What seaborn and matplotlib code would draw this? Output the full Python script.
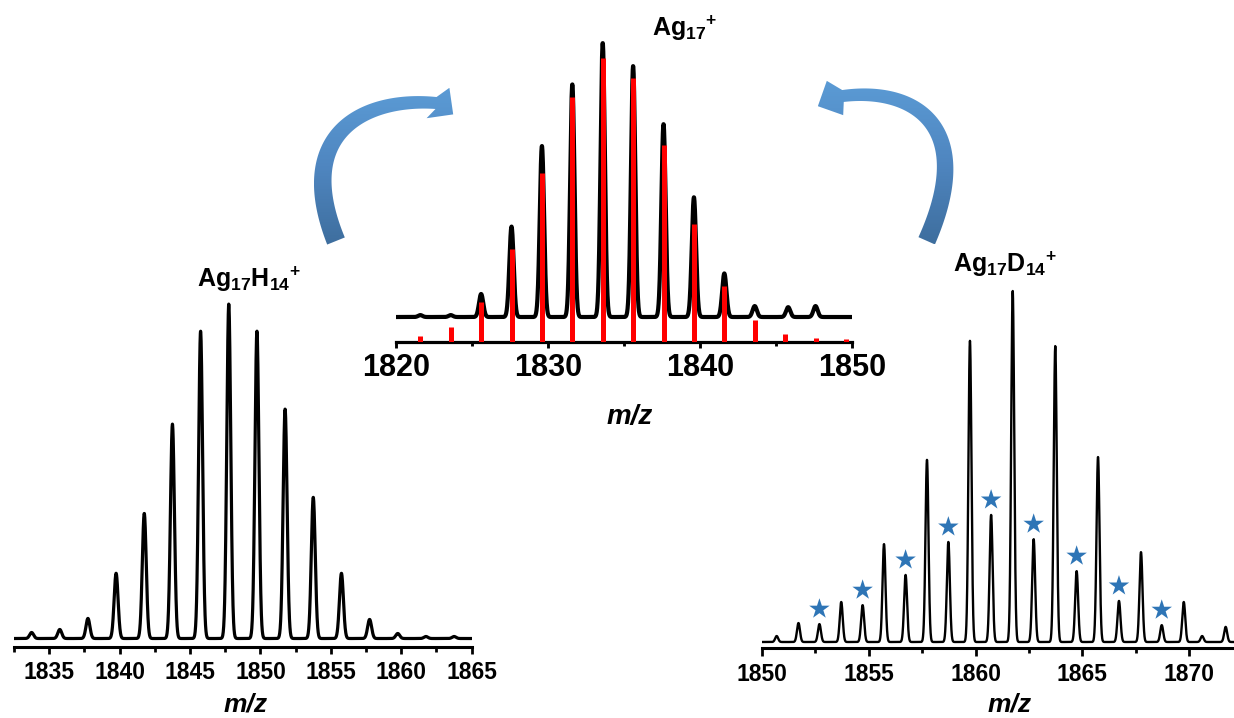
import numpy as np
import pandas as pd
import matplotlib
matplotlib.use("Agg")
import matplotlib.pyplot as plt
from matplotlib.patches import Polygon
from matplotlib.colors import LinearSegmentedColormap
from matplotlib.ticker import MultipleLocator, FormatStrFormatter
import seaborn as sns

# ---- Ag17+ : measured isotope envelope (black) and simulated pattern (red sticks)
ag17_peak_mz = [1821.6, 1823.6, 1825.6, 1827.6, 1829.6, 1831.6, 1833.6,
                1835.6, 1837.6, 1839.6, 1841.6, 1843.6, 1845.8, 1847.6]
ag17_peak_int = [0.7, 0.7, 8.4, 33.0, 62.4, 84.9, 100.0,
                 91.6, 70.4, 43.7, 15.9, 4.0, 3.6, 4.0]
ag17_sim_mz = [1821.6, 1823.6, 1825.6, 1827.6, 1829.6, 1831.6, 1833.6, 1835.6,
               1837.6, 1839.6, 1841.6, 1843.6, 1845.6, 1847.6, 1849.6]
ag17_sim_int = [2.1, 5.2, 14.1, 32.7, 59.5, 86.3, 100.0, 93.0,
                69.4, 41.6, 19.8, 7.8, 2.8, 1.4, 1.0]

# ---- Ag17H14+
ag17h14_mz = [1833.75, 1835.75, 1837.75, 1839.75, 1841.75, 1843.75, 1845.75, 1847.75,
              1849.75, 1851.75, 1853.75, 1855.75, 1857.75, 1859.75, 1861.75, 1863.75]
ag17h14_int = [1.8, 2.7, 6.0, 19.5, 37.4, 64.1, 91.9, 100.0,
               91.9, 68.6, 42.2, 19.5, 5.7, 1.5, 0.6, 0.6]

# ---- Ag17D14+ (main series) and the marked (*) series
ag17d14_mz = [1850.70, 1851.72, 1853.72, 1855.72, 1857.73, 1859.74, 1861.74,
              1863.73, 1865.73, 1867.74, 1869.74, 1870.60, 1871.70]
ag17d14_int = [1.7, 5.4, 11.4, 27.9, 51.9, 85.8, 100.0,
               84.3, 52.7, 25.6, 11.4, 1.7, 4.3]
marked_mz = [1852.70, 1854.72, 1856.73, 1858.73, 1860.73, 1862.72, 1864.73, 1866.71, 1868.71]
marked_int = [5.1, 10.5, 19.1, 28.5, 36.2, 29.3, 20.2, 11.7, 4.8]

# tick layout and labels
center_xlim = (1820, 1850)
left_xlim = (1832.5, 1865)
right_xlim = (1850, 1872.09)
label_center = r"$\mathrm{Ag}_{17}{}^{+}$"
label_left = r"$\mathrm{Ag}_{17}\mathrm{H}_{14}{}^{+}$"
label_right = r"$\mathrm{Ag}_{17}\mathrm{D}_{14}{}^{+}$"
xlabel = "m/z"


def envelope(grid, centers, heights, sigma):
    """Sum of Gaussian line shapes at the listed peak positions."""
    c = np.asarray(centers)[:, None]
    h = np.asarray(heights)[:, None]
    return (h * np.exp(-0.5 * ((grid[None, :] - c) / sigma) ** 2)).sum(axis=0)


sns.set_theme(style="ticks")
plt.rcParams["font.family"] = ["Liberation Sans", "DejaVu Sans"]
plt.rcParams["font.weight"] = "bold"
plt.rcParams["text.color"] = "black"
plt.rcParams["axes.labelcolor"] = "black"
plt.rcParams["xtick.color"] = "black"
plt.rcParams["axes.edgecolor"] = "black"
plt.rcParams["mathtext.fontset"] = "custom"
plt.rcParams["mathtext.rm"] = "Liberation Sans:bold"
plt.rcParams["mathtext.bf"] = "Liberation Sans:bold"
plt.rcParams["mathtext.it"] = "Liberation Sans:bold:italic"

W, H = 1234, 718
fig = plt.figure(figsize=(W / 100, H / 100), dpi=100)


def px_axes(x0, x1, ytop, ybot):
    return fig.add_axes([x0 / W, 1 - ybot / H, (x1 - x0) / W, (ybot - ytop) / H])


def style_axis(ax, xlim, major, minor, fs, spine_w, maj_len, min_len, pad):
    ax.set_xlim(*xlim)
    for s in ("left", "top", "right"):
        ax.spines[s].set_visible(False)
    ax.spines["bottom"].set_linewidth(spine_w)
    ax.spines["bottom"].set_color("black")
    ax.set_yticks([])
    ax.set_ylabel("")
    ax.xaxis.set_major_locator(MultipleLocator(major))
    ax.xaxis.set_minor_locator(MultipleLocator(minor))
    ax.xaxis.set_major_formatter(FormatStrFormatter("%d"))
    ax.tick_params(axis="x", which="major", direction="out", length=maj_len,
                   width=spine_w * 0.9, labelsize=fs, pad=pad, colors="black")
    ax.tick_params(axis="x", which="minor", direction="out", length=min_len,
                   width=spine_w * 0.9, colors="black")
    for t in ax.get_xticklabels():
        t.set_fontweight("bold")
    ax.patch.set_alpha(0)


# ---------------- center panel: Ag17+
ax_c = px_axes(396, 852, 30, 342)
grid_c = np.linspace(*center_xlim, 3000)
df_c = pd.DataFrame({"mz": grid_c,
                     "I": envelope(grid_c, ag17_peak_mz, ag17_peak_int, 0.14)})
sns.lineplot(data=df_c, x="mz", y="I", ax=ax_c, color="black", lw=3.0, sort=False)
ax_c.set_ylim(-9.12, 104.74)
style_axis(ax_c, center_xlim, 10, 5, 22, 2.3, 4.5, 3.0, 3.5)
ax_c.set_xlabel(xlabel, fontsize=20, fontweight="bold", fontstyle="italic", color="black")
ax_c.xaxis.set_label_coords(0.513, -0.2)

ax_s = ax_c.twinx()
ax_s.vlines(ag17_sim_mz, 0, ag17_sim_int, color="#ff0000", lw=3.6)
ax_s.set_ylim(0, 109.97)
ax_s.set_xlim(*center_xlim)
ax_s.set_yticks([])
for s in ax_s.spines.values():
    s.set_visible(False)
ax_s.patch.set_alpha(0)

# ---------------- left panel: Ag17H14+
ax_l = px_axes(14, 471.7, 290, 647)
grid_l = np.linspace(*left_xlim, 3000)
df_l = pd.DataFrame({"mz": grid_l,
                     "I": envelope(grid_l, ag17h14_mz, ag17h14_int, 0.14)})
sns.lineplot(data=df_l, x="mz", y="I", ax=ax_l, color="black", lw=2.3, sort=False)
ax_l.set_ylim(-2.54, 104.2)
style_axis(ax_l, left_xlim, 5, 2.5, 16.5, 2.2, 5.0, 3.5, 5.0)
ax_l.set_xlabel(xlabel, fontsize=19, fontweight="bold", fontstyle="italic", color="black")
ax_l.xaxis.set_label_coords(0.505, -0.128)

# ---------------- right panel: Ag17D14+
ax_r = px_axes(761.7, 1234, 280, 648)
grid_r = np.linspace(*right_xlim, 5000)
df_r = pd.DataFrame({"mz": grid_r,
                     "I": envelope(grid_r, ag17d14_mz + marked_mz,
                                   ag17d14_int + marked_int, 0.07)})
sns.lineplot(data=df_r, x="mz", y="I", ax=ax_r, color="black", lw=1.7, sort=False)
star_lift = 4.3
sns.scatterplot(x=marked_mz, y=np.array(marked_int) + star_lift, ax=ax_r,
                marker="*", s=240, color="#2E75B6", edgecolor="none", zorder=5)
ax_r.set_ylim(-1.71, 103.13)
style_axis(ax_r, right_xlim, 5, 2.5, 16.5, 2.2, 5.5, 3.5, 5.0)
ax_r.set_xlabel(xlabel, fontsize=19, fontweight="bold", fontstyle="italic", color="black")
ax_r.xaxis.set_label_coords(0.524, -0.122)

# ---------------- formula labels
fig.text(685 / W, 1 - 36 / H, label_center, ha="center", va="baseline", fontsize=18)
fig.text(249 / W, 1 - 287 / H, label_left, ha="center", va="baseline", fontsize=18)
fig.text(1005 / W, 1 - 272 / H, label_right, ha="center", va="baseline", fontsize=18)

# ---------------- curved conversion arrows (drawn in pixel space)
ov = fig.add_axes([0, 0, 1, 1], zorder=10)
ov.set_xlim(0, W)
ov.set_ylim(H, 0)
ov.axis("off")
ov.patch.set_alpha(0)
arrow_cmap = LinearSegmentedColormap.from_list("arrow", ["#5B9BD5", "#4F86C0", "#3E6E9E"])


def curved_arrow(p0, p1, p2, p3, w0, w1, h0, hdir, half_head, head_len):
    p0, p1, p2, p3, h0, hdir = map(np.asarray, (p0, p1, p2, p3, h0, hdir))
    t = np.linspace(0, 1, 200)[:, None]
    pts = (1 - t) ** 3 * p0 + 3 * (1 - t) ** 2 * t * p1 + 3 * (1 - t) * t ** 2 * p2 + t ** 3 * p3
    d = 3 * (1 - t) ** 2 * (p1 - p0) + 6 * (1 - t) * t * (p2 - p1) + 3 * t ** 2 * (p3 - p2)
    d = d / np.linalg.norm(d, axis=1, keepdims=True)
    n = np.column_stack([-d[:, 1], d[:, 0]])
    w = (w0 + (w1 - w0) * t) / 2
    side_a = pts + n * w
    side_b = pts - n * w
    hdir = hdir / np.linalg.norm(hdir)
    hp = np.array([-hdir[1], hdir[0]])
    barb1 = h0 + hp * half_head
    barb2 = h0 - hp * half_head
    tip = h0 + hdir * head_len
    if np.dot(n[-1], hp) < 0:
        barb1, barb2 = barb2, barb1
    verts = np.vstack([side_a, barb1, tip, barb2, side_b[::-1]])
    poly = Polygon(verts, closed=True, facecolor="none", edgecolor="none")
    ov.add_patch(poly)
    x0, y0 = verts.min(axis=0)
    x1, y1 = verts.max(axis=0)
    grad = np.linspace(0, 1, 256)[:, None]
    im = ov.imshow(grad, cmap=arrow_cmap, extent=(x0, x1, y1, y0),
                   aspect="auto", origin="upper", interpolation="bilinear")
    im.set_clip_path(poly)


curved_arrow((336, 241), (292, 132), (366, 97), (436, 103), 19, 12,
             (438, 103), (0.8, 0.6), 19, 19)
curved_arrow((926.7, 240.8), (978, 125), (913, 87), (843, 96), 18, 12,
             (835, 98), (-0.9, 0.43), 19, 19)
ov.set_xlim(0, W)
ov.set_ylim(H, 0)

fig.savefig("out.png", dpi=100)
